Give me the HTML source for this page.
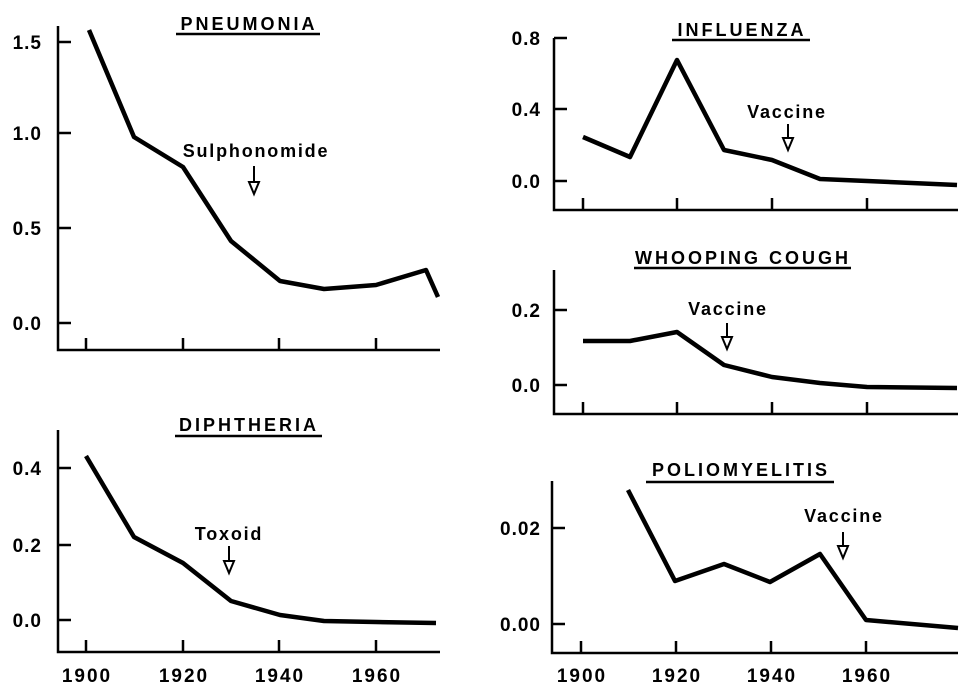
<!DOCTYPE html>
<html><head><style>body{margin:0;background:#fff}svg{display:block}text{font-family:"Liberation Sans",sans-serif;font-weight:bold;fill:#000}</style></head><body>
<svg width="964" height="692" viewBox="0 0 964 692">
<g stroke="#000" stroke-width="2.5" fill="none">
<path d="M58 26V350H440M58 42h13M58 133h13M58 228h13M58 323h13M86 350v-12M183 350v-12M279 350v-12M376 350v-12"/>
<path d="M58 430V652H440M58 468h13M58 545h13M58 620h13M86 652v-12M183 652v-12M279 652v-12M376 652v-12"/>
<path d="M554 38V210H958M554 38h13M554 109h13M554 181h13M583 210v-12M677 210v-12M772 210v-12M867 210v-12"/>
<path d="M554 270V414H958M554 310h13M554 385h13M583 414v-12M677 414v-12M772 414v-12M867 414v-12"/>
<path d="M552 481V653H958M552 528h13M552 624h13M581 653v-12M676 653v-12M771 653v-12M866 653v-12"/>
<path d="M176 34H320M175 436H322M672 40H810M634 268H851M646 482H834"/>
</g>
<g stroke="#000" stroke-width="4.5" fill="none" stroke-linejoin="round">
<path d="M89 30L134 137L183 167L231 241L280 281L324 289L376 285L426 270L438 297"/>
<path d="M86 456L134 537L183 563L231 601L280 615L324 621L376 622L436 623"/>
<path d="M583 137L630 157L677 60L724 150L772 160L820 179L867 181L957 185"/>
<path d="M583 341L630 341L677 332L724 365L772 377L820 383L867 387L957 388"/>
<path d="M628 490L675 581L724 564L770 582L820 554L866 620L958 628"/>
</g>
<g stroke="#000" stroke-width="2" fill="#fff">
<path d="M254 166v16"/><path d="M249 182h10l-5 12z"/>
<path d="M229 546v15"/><path d="M224 561h10l-5 12z"/>
<path d="M788 124v14"/><path d="M783 138h10l-5 12z"/>
<path d="M727 323v14"/><path d="M722 337h10l-5 12z"/>
<path d="M843 532v14"/><path d="M838 546h10l-5 12z"/>
</g>
<g font-size="18" letter-spacing="3" text-anchor="middle">
<text x="249" y="30">PNEUMONIA</text>
<text x="249" y="431">DIPHTHERIA</text>
<text x="742" y="36">INFLUENZA</text>
<text x="743" y="264">WHOOPING COUGH</text>
<text x="741" y="476">POLIOMYELITIS</text>
</g>
<g font-size="18" letter-spacing="1.8" text-anchor="middle">
<text x="256" y="157">Sulphonomide</text>
<text x="229" y="540">Toxoid</text>
<text x="787" y="118">Vaccine</text>
<text x="728" y="315">Vaccine</text>
<text x="844" y="522">Vaccine</text>
</g>
<g font-size="19" letter-spacing="1" text-anchor="end">
<text x="42" y="49">1.5</text><text x="42" y="140">1.0</text><text x="42" y="235">0.5</text><text x="42" y="330">0.0</text>
<text x="42" y="475">0.4</text><text x="42" y="552">0.2</text><text x="42" y="627">0.0</text>
<text x="541" y="45">0.8</text><text x="541" y="116">0.4</text><text x="541" y="188">0.0</text>
<text x="541" y="317">0.2</text><text x="541" y="392">0.0</text>
<text x="541" y="535">0.02</text><text x="541" y="631">0.00</text>
</g>
<g font-size="19" letter-spacing="2" text-anchor="middle">
<text x="87" y="682">1900</text><text x="184" y="682">1920</text><text x="280" y="682">1940</text><text x="377" y="682">1960</text>
<text x="582" y="682">1900</text><text x="677" y="682">1920</text><text x="772" y="682">1940</text><text x="867" y="682">1960</text>
</g>
</svg>
</body></html>
